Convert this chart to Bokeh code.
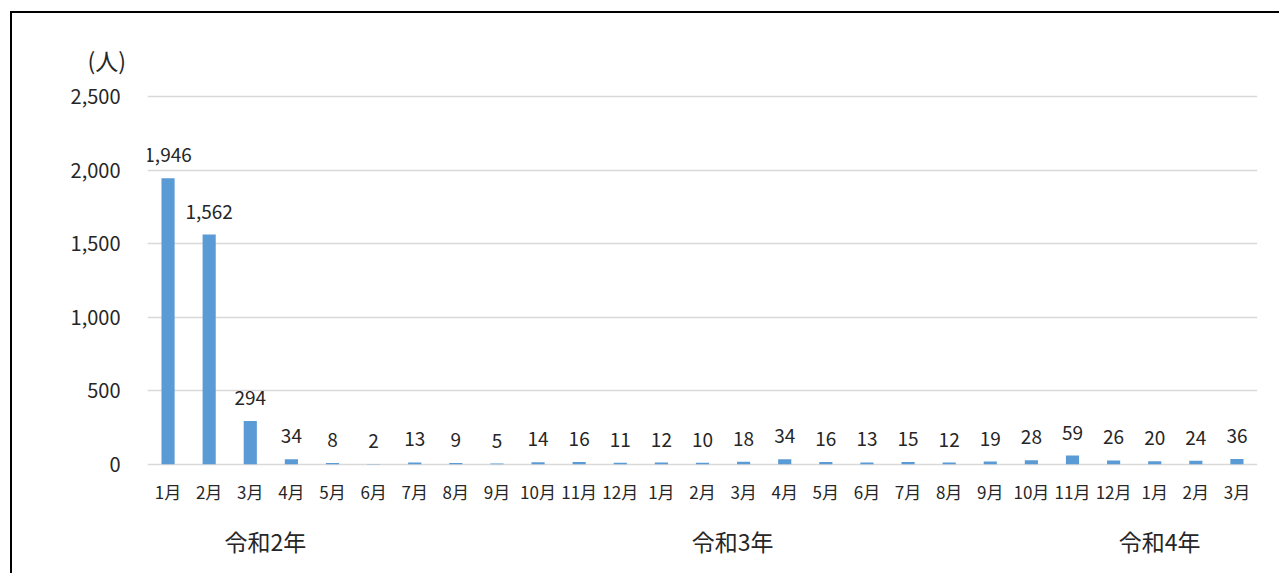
from bokeh.plotting import figure
from bokeh.models import (Range1d, FixedTicker, LinearAxis, Title,
                          ColumnDataSource, NumeralTickFormatter)
from bokeh.core.properties import value
from bokeh.embed import file_html
from bokeh.resources import INLINE

# Monthly counts, Reiwa 2 Jan .. Reiwa 4 Mar
months = ["1月", "2月", "3月", "4月", "5月", "6月", "7月", "8月", "9月", "10月", "11月", "12月",
          "1月", "2月", "3月", "4月", "5月", "6月", "7月", "8月", "9月", "10月", "11月", "12月",
          "1月", "2月", "3月"]
counts = [1946, 1562, 294, 34, 8, 2, 13, 9, 5, 14, 16, 11,
          12, 10, 18, 34, 16, 13, 15, 12, 19, 28, 59, 26,
          20, 24, 36]
years = ["令和2年", "令和3年", "令和4年"]
year_pos = [2.37, 13.73, 24.12]
y_ticks = [0, 500, 1000, 1500, 2000, 2500]

FONT = "Noto Sans CJK JP"
TXT = "#262626"

# the page frame line sits 10px/11px in; the canvas starts after its 2px border
W, H = 1281 - 12, 575 - 13
LEFT, RIGHT, TOP, BOTTOM = 135, 24, 81, 109

xs = list(range(len(counts)))
src = ColumnDataSource(dict(
    x=xs, y=counts, label=[f"{v:,}" for v in counts]))

p = figure(width=W, height=H, output_backend="svg", toolbar_location=None,
           x_range=Range1d(-0.5, len(counts) - 0.5),
           y_range=Range1d(-15, 2515),
           min_border_left=LEFT, min_border_right=RIGHT,
           min_border_top=TOP, min_border_bottom=BOTTOM)
p.styles = {"margin-left": "10px", "margin-top": "11px",
            "border-top": "2px solid black", "border-left": "2px solid black"}
p.outline_line_color = None
p.background_fill_color = "white"
p.border_fill_color = "white"

p.vbar(x="x", top="y", bottom=0, width=0.32, source=src,
       fill_color="#5B9BD5", line_color=None)

p.text(x="x", y="y", text="label", source=src, y_offset=-23,
       text_align="center", text_baseline="alphabetic",
       text_font=value(FONT), text_font_size="19px", text_color=TXT)

# axes
p.xgrid.grid_line_color = None
p.ygrid.grid_line_color = "#D9D9D9"
p.ygrid.grid_line_width = 1.5
p.yaxis.ticker = FixedTicker(ticks=y_ticks)
p.yaxis.formatter = NumeralTickFormatter(format="0,0")
p.xaxis.ticker = FixedTicker(ticks=xs)
p.xaxis.major_label_overrides = {i: m for i, m in zip(xs, months)}

# second row of x labels: the era year
year_axis = LinearAxis(ticker=FixedTicker(ticks=year_pos),
                       major_label_overrides={xp: yr for xp, yr in zip(year_pos, years)})
p.add_layout(year_axis, "below")

for ax in (p.xaxis[0], year_axis, p.yaxis[0]):
    ax.axis_line_color = None
    ax.major_tick_line_color = None
    ax.minor_tick_line_color = None
    ax.major_tick_out = 0
    ax.major_tick_in = 0
    ax.major_label_text_font = FONT
    ax.major_label_text_color = TXT
p.yaxis.major_label_text_font_size = "20px"
p.yaxis.major_label_standoff = 27
p.xaxis[0].major_label_text_font_size = "17px"
p.xaxis[0].major_label_standoff = 12
year_axis.major_label_text_font_size = "23px"
year_axis.major_label_standoff = 17

# unit caption above the value axis
p.title = Title(text="(人)", align="left", offset=-60, standoff=35,
                text_font=FONT, text_font_size="23px", text_font_style="normal",
                text_color=TXT)

open("out.html", "w").write(file_html(p, INLINE))
